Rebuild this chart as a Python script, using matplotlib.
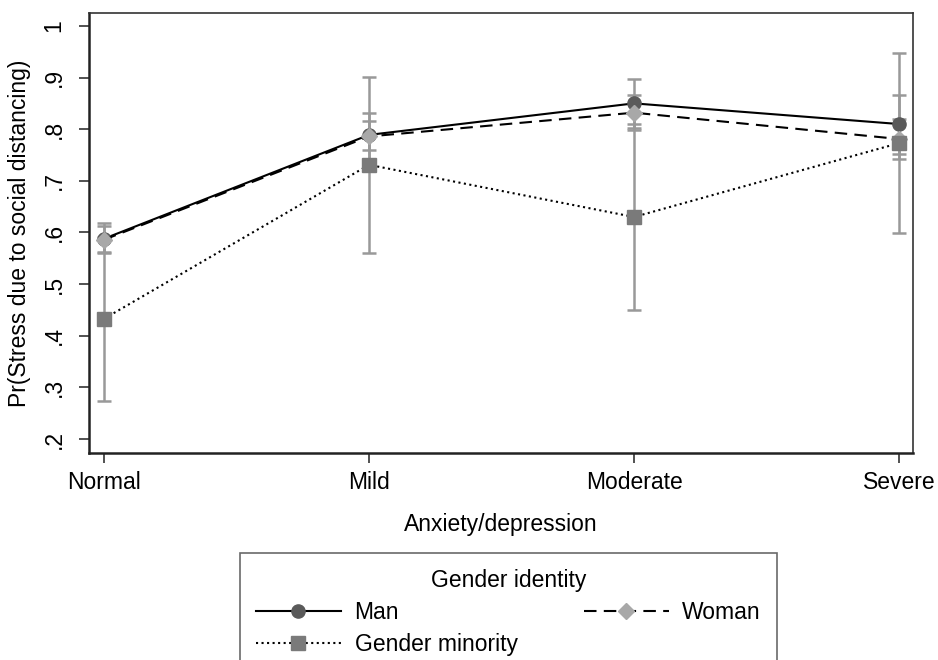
import matplotlib
matplotlib.use("Agg")
import matplotlib.pyplot as plt
import numpy as np

plt.rcParams['font.family'] = ['Liberation Sans', 'DejaVu Sans']

categories = ["Normal", "Mild", "Moderate", "Severe"]
series = ["Man", "Woman", "Gender minority"]

man = [0.588, 0.789, 0.850, 0.810]
man_lo = [0.563, 0.760, 0.802, 0.752]
man_hi = [0.613, 0.815, 0.897, 0.867]

woman = [0.586, 0.786, 0.832, 0.781]
woman_lo = [0.560, 0.741, 0.798, 0.742]
woman_hi = [0.618, 0.831, 0.867, 0.820]

minority = [0.433, 0.731, 0.630, 0.773]
minority_lo = [0.274, 0.560, 0.449, 0.599]
minority_hi = [0.592, 0.902, 0.811, 0.947]

yticks = [0.2, 0.3, 0.4, 0.5, 0.6, 0.7, 0.8, 0.9, 1.0]
yticklabels = [".2", ".3", ".4", ".5", ".6", ".7", ".8", ".9", "1"]

fig = plt.figure(figsize=(9.38, 6.6), dpi=100)
ax = fig.add_axes([89/938, 1-453/660, (913-89)/938, (453-13)/660])

x = np.arange(len(categories))
ecol = "#999999"
styles = [
    (man, man_lo, man_hi, "-", "o", "#5a5a5a", 9.5),
    (woman, woman_lo, woman_hi, (0, (6, 3.5)), "D", "#a8a8a8", 8.0),
    (minority, minority_lo, minority_hi, ":", "s", "#7a7a7a", 9.5),
]

for vals, lo, hi, ls, mk, mc, ms in styles:
    vals = np.array(vals); lo = np.array(lo); hi = np.array(hi)
    ax.errorbar(x, vals, yerr=[vals - lo, hi - vals], fmt="none",
                ecolor=ecol, elinewidth=1.8, capsize=4.7, capthick=1.8, zorder=2)

handles = []
for (vals, lo, hi, ls, mk, mc, ms), name in zip(styles, series):
    h, = ax.plot(x, vals, linestyle=ls, color="black", linewidth=1.5,
                 marker=mk, markersize=ms, markerfacecolor=mc,
                 markeredgecolor=mc, zorder=3, label=name)
    handles.append(h)

ax.set_xlim(-0.057, 3.053)
ax.set_ylim(0.173, 1.025)
ax.set_xticks(x)
ax.set_xticklabels(categories, fontsize=16.5)
ax.set_yticks(yticks)
ax.set_yticklabels(yticklabels, fontsize=16.5, rotation=90, va="center")
ax.tick_params(axis="x", length=7, width=1.2, pad=6, color="#333333")
ax.tick_params(axis="y", length=7, width=1.2, pad=10, color="#333333")
for s in ["left", "bottom"]:
    ax.spines[s].set_linewidth(1.8)
    ax.spines[s].set_color("#222222")
for s in ["top", "right"]:
    ax.spines[s].set_linewidth(1.2)
    ax.spines[s].set_color("#333333")

ax.set_xlabel("Anxiety/depression", fontsize=16.5, labelpad=14)
ax.set_ylabel("Pr(Stress due to social distancing)", fontsize=16.5, labelpad=8)

top = 1 - 553/660
leg = fig.legend(handles=[handles[0], handles[2], handles[1]],
                 labels=[series[0], series[2], series[1]], ncol=2, loc="upper left",
                 bbox_to_anchor=(240/938, top - 0.2, (777-240)/938, 0.2),
                 mode="expand", title="Gender identity",
                 fontsize=16.5, title_fontsize=16.5, frameon=True, fancybox=False,
                 edgecolor="#444444", handlelength=3.7, handletextpad=0.6,
                 borderpad=0.7, labelspacing=0.4, columnspacing=1.5,
                 borderaxespad=0)
leg.get_frame().set_linewidth(1.2)

fig.savefig("out.png", dpi=100)
